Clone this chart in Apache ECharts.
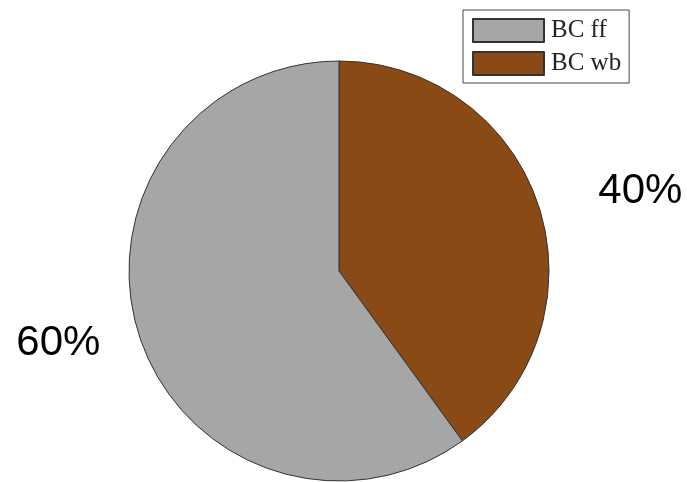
<!DOCTYPE html>
<html>
<head>
<meta charset="utf-8">
<script src="https://cdn.jsdelivr.net/npm/echarts@6/dist/echarts.min.js"></script>
<style>
  html, body { margin: 0; padding: 0; background: #fff; }
  #chart { width: 687px; height: 482px; }
</style>
</head>
<body>
<div id="chart"></div>
<script>
// Black carbon source split: fossil fuel vs. wood burning
const sliceNames = ['BC wb', 'BC ff'];
const sliceValues = [40, 60];
const sliceColors = ['#8a4a16', '#a6a6a6'];
const legendOrder = ['BC ff', 'BC wb'];

// label line lengths only steer where the outside labels sit (lines hidden)
const labelLineLens = [[49, 8], [23, 12]];

const chart = echarts.init(document.getElementById('chart'), null, { renderer: 'canvas' });

const pieData = sliceNames.map((name, i) => ({
  name: name,
  value: sliceValues[i],
  itemStyle: { color: sliceColors[i] },
  labelLine: { show: false, length: labelLineLens[i][0], length2: labelLineLens[i][1] }
}));

chart.setOption({
  animation: false,
  backgroundColor: '#ffffff',
  legend: {
    data: legendOrder,
    orient: 'vertical',
    left: 463,
    top: 10,
    padding: [8, 8, 7, 9],
    itemWidth: 71,
    itemHeight: 23,
    itemGap: 8,
    borderColor: '#444',
    borderWidth: 1,
    icon: 'rect',
    textStyle: {
      fontFamily: 'Liberation Serif',
      fontSize: 25,
      lineHeight: 23,
      color: '#222',
      padding: [0, 0, 0, 2]
    }
  },
  series: [{
    type: 'pie',
    center: [339, 271],
    radius: 210,
    startAngle: 90,
    clockwise: true,
    avoidLabelOverlap: false,
    itemStyle: { borderColor: '#333', borderWidth: 1 },
    label: {
      show: true,
      position: 'outside',
      formatter: '{d}%',
      fontFamily: 'Liberation Sans',
      fontSize: 42,
      color: '#000'
    },
    emphasis: { disabled: true },
    data: pieData
  }]
});
</script>
</body>
</html>
